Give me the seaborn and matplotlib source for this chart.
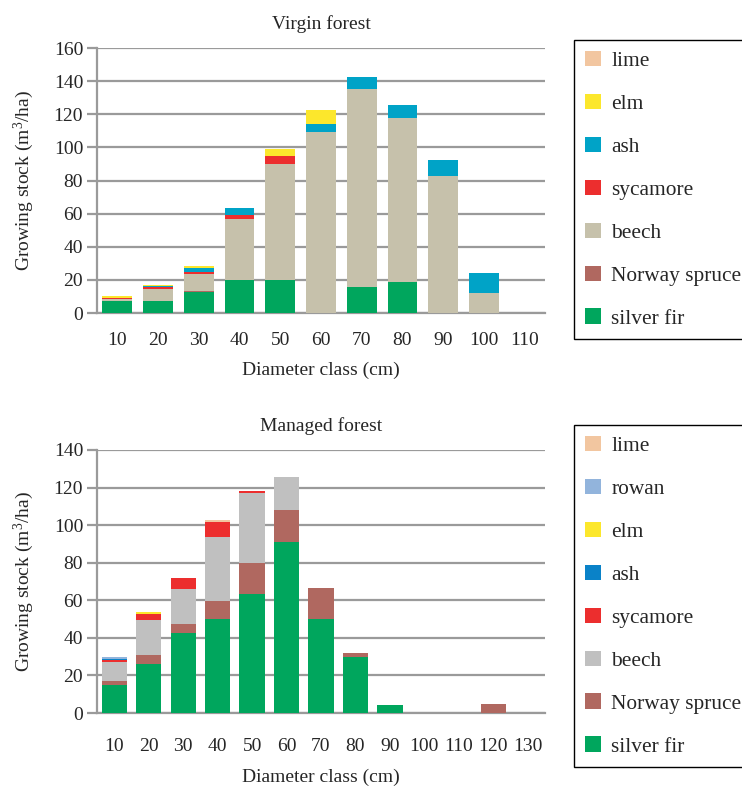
import numpy as np
import pandas as pd
import matplotlib
matplotlib.use('Agg')
import matplotlib.pyplot as plt
from matplotlib.patches import Patch
import seaborn as sns

# ── Data (m3/ha per diameter class) ──────────────────────────
virgin_classes   = ['10', '20', '30', '40', '50', '60', '70', '80', '90', '100', '110']
virgin_fir       = [7.0, 7.0, 12.5, 20.0, 20.0, 0.0, 16.0, 18.5, 0.0, 0.0, 0.0]
virgin_spruce    = [0.0, 0.0, 0.5, 0.0, 0.0, 0.0, 0.0, 0.0, 0.0, 0.0, 0.0]
virgin_beech     = [1.5, 7.2, 10.5, 36.5, 70.0, 109.0, 119.5, 99.5, 83.0, 12.3, 0.0]
virgin_sycamore  = [0.6, 1.2, 1.2, 2.5, 5.0, 0.0, 0.0, 0.0, 0.0, 0.0, 0.0]
virgin_ash       = [0.0, 0.8, 2.2, 4.2, 0.0, 5.0, 6.7, 7.8, 9.5, 11.6, 0.0]
virgin_elm       = [1.0, 1.0, 1.2, 0.0, 3.8, 8.5, 0.0, 0.0, 0.0, 0.0, 0.0]
virgin_lime      = [0.0, 0.0, 0.0, 0.0, 0.0, 0.0, 0.0, 0.0, 0.0, 0.0, 0.0]

managed_classes  = ['10', '20', '30', '40', '50', '60', '70', '80', '90', '100', '110', '120', '130']
managed_fir      = [15.0, 26.2, 42.5, 50.0, 63.4, 91.0, 50.0, 29.8, 4.3, 0, 0, 0.0, 0]
managed_spruce   = [2.2, 4.6, 5.0, 9.5, 16.3, 17.0, 16.5, 2.1, 0.0, 0, 0, 4.8, 0]
managed_beech    = [10.0, 18.8, 18.6, 34.2, 37.3, 17.5, 0.0, 0.0, 0.0, 0, 0, 0.0, 0]
managed_sycamore = [1.2, 3.2, 5.8, 8.0, 1.0, 0.0, 0.0, 0.0, 0.0, 0, 0, 0.0, 0]
managed_ash      = [0.4, 0.0, 0.0, 0.0, 0.0, 0.0, 0.0, 0.0, 0.0, 0, 0, 0.0, 0]
managed_elm      = [0.0, 0.9, 0.0, 0.0, 0.0, 0.0, 0.0, 0.0, 0.0, 0, 0, 0.0, 0]
managed_rowan    = [1.0, 0.0, 0.0, 0.0, 0.0, 0.0, 0.0, 0.0, 0.0, 0, 0, 0.0, 0]
managed_lime     = [0.0, 0.0, 0.0, 0.9, 0.0, 0.0, 0.0, 0.0, 0.0, 0, 0, 0.0, 0]

# stacking order bottom -> top
virgin = pd.DataFrame({
    'silver fir': virgin_fir, 'Norway spruce': virgin_spruce, 'beech': virgin_beech,
    'sycamore': virgin_sycamore, 'ash': virgin_ash, 'elm': virgin_elm, 'lime': virgin_lime,
}, index=virgin_classes)
managed = pd.DataFrame({
    'silver fir': managed_fir, 'Norway spruce': managed_spruce, 'beech': managed_beech,
    'sycamore': managed_sycamore, 'ash': managed_ash, 'elm': managed_elm,
    'rowan': managed_rowan, 'lime': managed_lime,
}, index=managed_classes)

virgin_colors = {'silver fir': '#00A65D', 'Norway spruce': '#B06860', 'beech': '#C6C1AB',
                 'sycamore': '#EC2E2E', 'ash': '#00A3C7', 'elm': '#FCE72C', 'lime': '#F2C6A0'}
managed_colors = {'silver fir': '#00A65D', 'Norway spruce': '#B06860', 'beech': '#C0C0C0',
                  'sycamore': '#EC2E2E', 'ash': '#0A82C8', 'elm': '#FCE72C',
                  'rowan': '#92B4DC', 'lime': '#F2C6A0'}

# ── Style ────────────────────────────────────────────────────
sns.set_theme(style='white')
plt.rcParams['font.family'] = ['Liberation Serif', 'DejaVu Serif']
plt.rcParams['mathtext.fontset'] = 'custom'
plt.rcParams['mathtext.rm'] = 'Liberation Serif'
plt.rcParams['mathtext.it'] = 'Liberation Serif:italic'
FS = 14
LFS = 15.4
GRID = '#9a9a9a'

W, H = 742, 787
fig = plt.figure(figsize=(W / 100, H / 100), dpi=100)


def stacked(ax, df, colors, ymax, title, legend_top, tick_pad, xlabel_pad):
    cum = df.cumsum(axis=1)
    n = len(df.index)
    # draw tallest cumulative layer first so lower layers sit on top
    for sp in reversed(df.columns):
        sns.barplot(x=list(df.index), y=cum[sp].values, color=colors[sp],
                    saturation=1, width=0.73, linewidth=0, ax=ax, zorder=3)
    ax.set_xlim(-0.5, n - 0.5)
    ax.set_ylim(0, ymax)
    ax.set_yticks(np.arange(0, ymax + 1, 20))
    ax.yaxis.grid(True, color=GRID, linewidth=1.6)
    ax.set_axisbelow(True)
    for s in ['top', 'right']:
        ax.spines[s].set_visible(False)
    for s in ['left', 'bottom']:
        ax.spines[s].set_color(GRID)
        ax.spines[s].set_linewidth(1.6)
    ax.set_xticks(np.arange(n))
    ax.set_xticklabels(list(df.index))
    ax.set_xticks(np.arange(n + 1) - 0.5, minor=True)
    ax.tick_params(axis='x', which='major', length=0, pad=tick_pad, labelsize=FS)
    ax.tick_params(axis='x', which='minor', length=7, width=1.6, color=GRID, direction='out')
    ax.tick_params(axis='y', length=7, width=1.6, color=GRID, direction='out', pad=3, labelsize=FS)
    ax.tick_params(left=True, bottom=True)
    ax.set_xlabel('Diameter class (cm)', fontsize=FS, labelpad=xlabel_pad)
    ax.set_ylabel('Growing stock (m$^3$/ha)', fontsize=FS)
    ax.yaxis.set_label_coords(-0.136, 0.5)
    ax.set_title(title, fontsize=FS, pad=14)

    handles = [Patch(facecolor=colors[sp], edgecolor='none') for sp in reversed(df.columns)]
    labels = list(reversed(df.columns))
    leg = fig.legend(handles, labels, loc='upper left',
                     bbox_to_anchor=(574 / W, 1 - legend_top / H),
                     fontsize=LFS, frameon=True, fancybox=False, framealpha=1,
                     edgecolor='black', borderpad=0.5, labelspacing=1.06,
                     handlelength=0.75, handleheight=0.75, handletextpad=0.5,
                     borderaxespad=0)
    leg.get_frame().set_linewidth(1.0)


ax1 = fig.add_axes([97 / W, 1 - 313 / H, 448 / W, 265 / H])
stacked(ax1, virgin, virgin_colors, 160, 'Virgin forest', 40, 14, 9)

ax2 = fig.add_axes([97 / W, 1 - 713 / H, 448 / W, 263 / H])
stacked(ax2, managed, managed_colors, 140, 'Managed forest', 425, 18, 10)

plt.savefig('out.png', dpi=100)
